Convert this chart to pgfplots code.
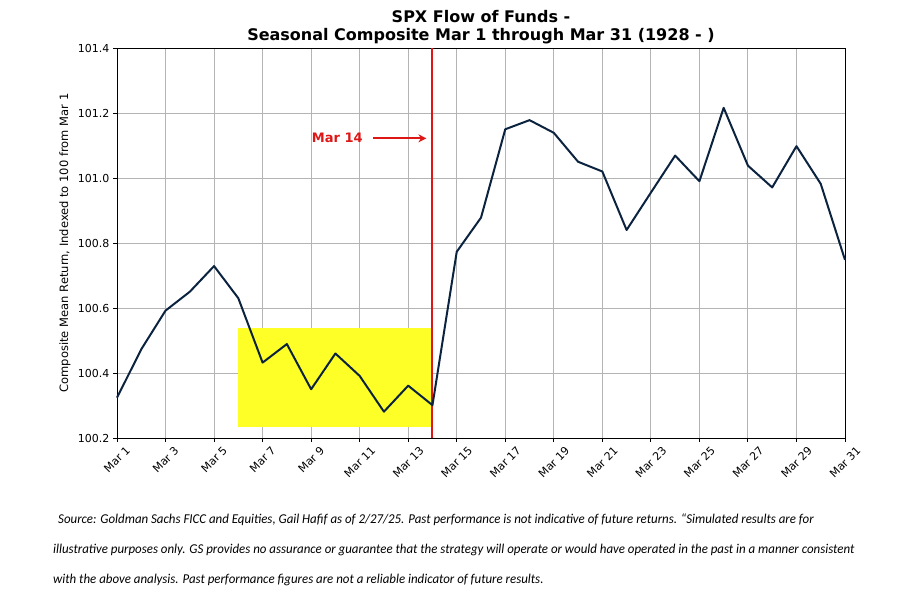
\documentclass[border=0pt]{standalone}
\usepackage{fontspec}
\setmainfont{DejaVu Sans}
\newfontfamily\notefont{Carlito}
\usepackage{pgfplots}
\pgfplotsset{compat=1.18}
\usetikzlibrary{arrows.meta}
\definecolor{navy}{RGB}{12,35,64}
\definecolor{gsred}{RGB}{222,22,22}
\definecolor{hl}{RGB}{255,255,40}
\definecolor{gridgray}{RGB}{180,180,180}
\begin{document}
\begin{tikzpicture}[x=1pt,y=1pt]
\useasboundingbox (0,0) rectangle (903,606);
\begin{axis}[
  at={(117pt,168pt)}, anchor=south west,
  scale only axis, width=728pt, height=390pt,
  xmin=1, xmax=31, ymin=100.2, ymax=101.4,
  xtick={1,3,5,7,9,11,13,15,17,19,21,23,25,27,29,31},
  xticklabels={\rotatebox{45}{Mar 1},\rotatebox{45}{Mar 3},\rotatebox{45}{Mar 5},\rotatebox{45}{Mar 7},\rotatebox{45}{Mar 9},\rotatebox{45}{Mar 11},\rotatebox{45}{Mar 13},\rotatebox{45}{Mar 15},\rotatebox{45}{Mar 17},\rotatebox{45}{Mar 19},\rotatebox{45}{Mar 21},\rotatebox{45}{Mar 23},\rotatebox{45}{Mar 25},\rotatebox{45}{Mar 27},\rotatebox{45}{Mar 29},\rotatebox{45}{Mar 31}},
  xticklabel style={anchor=north, inner sep=0pt, yshift=-3.5pt},
  ytick={100.2,100.4,100.6,100.8,101.0,101.2,101.4},
  yticklabel style={/pgf/number format/fixed,/pgf/number format/precision=1,/pgf/number format/fixed zerofill, anchor=east, inner sep=0pt, xshift=-3.5pt},
  /pgf/number format/assume math mode=true,
  grid=major,
  grid style={gridgray, line width=0.9pt},
  tick align=outside, major tick length=4pt,
  xtick pos=lower, ytick pos=left,
  axis line style={black, line width=0.9pt},
  tick style={black, line width=0.9pt},
  ticklabel style={font=\fontsize{11}{13}\selectfont},
  clip=false,
]
\addplot[draw=none, fill=hl] coordinates {(6,100.234) (14,100.234) (14,100.538) (6,100.538)} -- cycle;
\addplot[gsred, line width=2pt] coordinates {(14,100.2) (14,101.4)};
\addplot[navy, line width=2pt, line join=round] coordinates {
(1,100.324) (2,100.473) (3,100.592) (4,100.65) (5,100.729) (6,100.63)
(7,100.432) (8,100.489) (9,100.35) (10,100.46) (11,100.391) (12,100.281)
(13,100.361) (14,100.301) (15,100.773) (16,100.878) (17,101.15) (18,101.178)
(19,101.139) (20,101.05) (21,101.02) (22,100.84) (23,100.955) (24,101.069)
(25,100.99) (26,101.216) (27,101.038) (28,100.971) (29,101.098) (30,100.982)
(31,100.748)};
\draw[gsred, line width=2pt, -{Stealth[length=8pt,width=8pt]}] (axis cs:11.56,101.122) -- (axis cs:13.75,101.122);
\node[gsred, font=\fontsize{13}{15}\selectfont\bfseries] at (axis cs:10.08,101.122) {Mar 14};
\end{axis}
\node[anchor=base, font=\fontsize{16}{18}\selectfont\bfseries] at (481,583) {SPX Flow of Funds -};
\node[anchor=base, font=\fontsize{16}{18}\selectfont\bfseries] at (481,565) {Seasonal Composite Mar 1 through Mar 31 (1928 - )};
\node[rotate=90, font=\fontsize{11.5}{13}\selectfont] at (65,363) {Composite Mean Return, Indexed to 100 from Mar 1};
\node[anchor=base west, inner sep=0pt, font=\notefont\itshape\fontsize{13.5}{15}\selectfont] at (58,83) {\scalebox{0.955}[1]{Source: Goldman Sachs FICC and Equities, Gail Hafif as of 2/27/25. Past performance is not indicative of future returns. “Simulated results are for}};
\node[anchor=base west, inner sep=0pt, font=\notefont\itshape\fontsize{13.5}{15}\selectfont] at (53,53) {\scalebox{0.955}[1]{illustrative purposes only. GS provides no assurance or guarantee that the strategy will operate or would have operated in the past in a manner consistent}};
\node[anchor=base west, inner sep=0pt, font=\notefont\itshape\fontsize{13.5}{15}\selectfont] at (53,23) {\scalebox{0.955}[1]{with the above analysis. Past performance figures are not a reliable indicator of future results.}};
\end{tikzpicture}
\end{document}
